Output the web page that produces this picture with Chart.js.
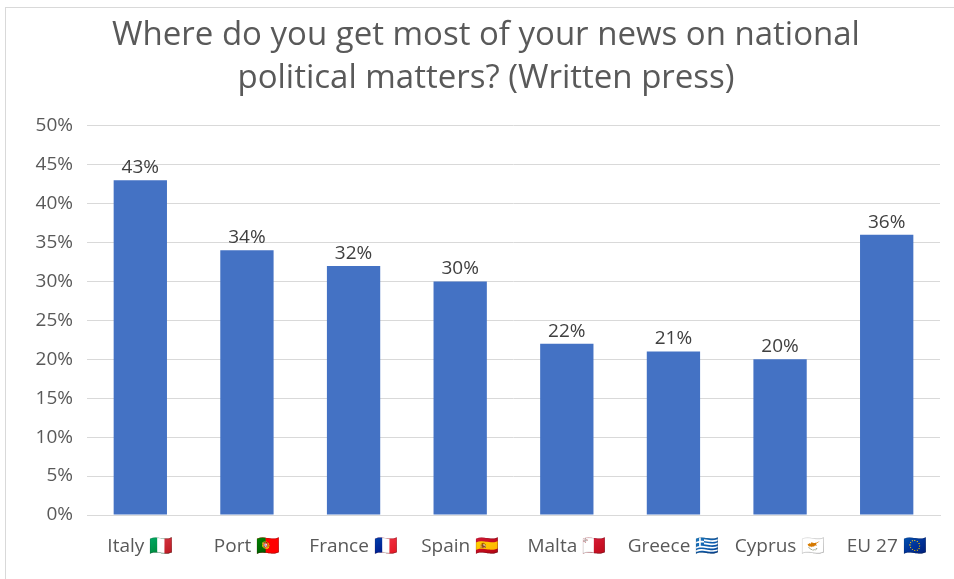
<!DOCTYPE html>
<html>
<head>
<meta charset="utf-8">
<script src="https://cdn.jsdelivr.net/npm/chart.js@4/dist/chart.umd.min.js"></script>
<style>
  html, body { margin: 0; padding: 0; background: #fff; }
  #wrap { position: relative; width: 954px; height: 579px; overflow: hidden; }
  #frame {
    position: absolute; left: 5px; top: 7px; right: -2px; bottom: -2px;
    border-left: 1px solid #d9d9d9; border-top: 1px solid #d9d9d9;
  }
  canvas { position: absolute; left: 0; top: 0; }
</style>
</head>
<body>
<div id="wrap">
  <div id="frame"></div>
  <canvas id="grafico" width="954" height="579"></canvas>
</div>
<script>
// Categorias e valores (% que lê a imprensa escrita)
const PAISES = [
  "Italy 🇮🇹", "Port 🇵🇹", "France 🇫🇷", "Spain 🇪🇸",
  "Malta 🇲🇹", "Greece 🇬🇷", "Cyprus 🇨🇾", "EU 27 🇪🇺",
];
const VALORES = [43, 34, 32, 30, 22, 21, 20, 36];
const TITULO = [
  "Where do you get most of your news on national",
  "political matters? (Written press)",
];

const FONTE = "'Open Sans', 'Noto Sans', sans-serif";

// Rótulos de valor por cima de cada barra
const rotulosBarras = {
  id: "rotulosBarras",
  afterDatasetsDraw(chart) {
    const ctx = chart.ctx;
    const meta = chart.getDatasetMeta(0);
    ctx.save();
    ctx.font = "19px " + FONTE;
    ctx.fillStyle = "#404040";
    ctx.textAlign = "center";
    ctx.textBaseline = "bottom";
    meta.data.forEach((barra, i) => {
      ctx.fillText(VALORES[i] + "%", barra.x, barra.y - 3);
    });
    ctx.restore();
  },
};

new Chart(document.getElementById("grafico"), {
  type: "bar",
  data: {
    labels: PAISES,
    datasets: [
      {
        data: VALORES,
        backgroundColor: "#4472c4",
        borderWidth: 0,
        categoryPercentage: 1,
        barPercentage: 0.5,
      },
    ],
  },
  options: {
    responsive: false,
    animation: false,
    layout: { padding: { left: 32, right: 14, top: 0, bottom: 19 } },
    plugins: {
      legend: { display: false },
      tooltip: { enabled: false },
      title: {
        display: true,
        text: TITULO,
        color: "#595959",
        font: { family: FONTE, size: 33, weight: "normal", lineHeight: 1.3 },
        padding: { top: 14, bottom: 26 },
      },
    },
    scales: {
      y: {
        min: 0,
        max: 50,
        ticks: {
          stepSize: 5,
          color: "#595959",
          font: { family: FONTE, size: 19 },
          padding: 14,
          callback: (v) => v + "%",
        },
        grid: { color: "#d9d9d9", lineWidth: 1, drawTicks: false },
        border: { display: false },
        afterFit(scale) { scale.width = 55; },
      },
      x: {
        ticks: {
          color: "#595959",
          font: { family: FONTE, size: 19 },
          padding: 20,
          maxRotation: 0,
          autoSkip: false,
        },
        grid: { display: false, drawTicks: false },
        border: { display: true, color: "#d9d9d9", width: 1 },
        afterFit(scale) { scale.height = 45; },
      },
    },
  },
  plugins: [rotulosBarras],
});
</script>
</body>
</html>
